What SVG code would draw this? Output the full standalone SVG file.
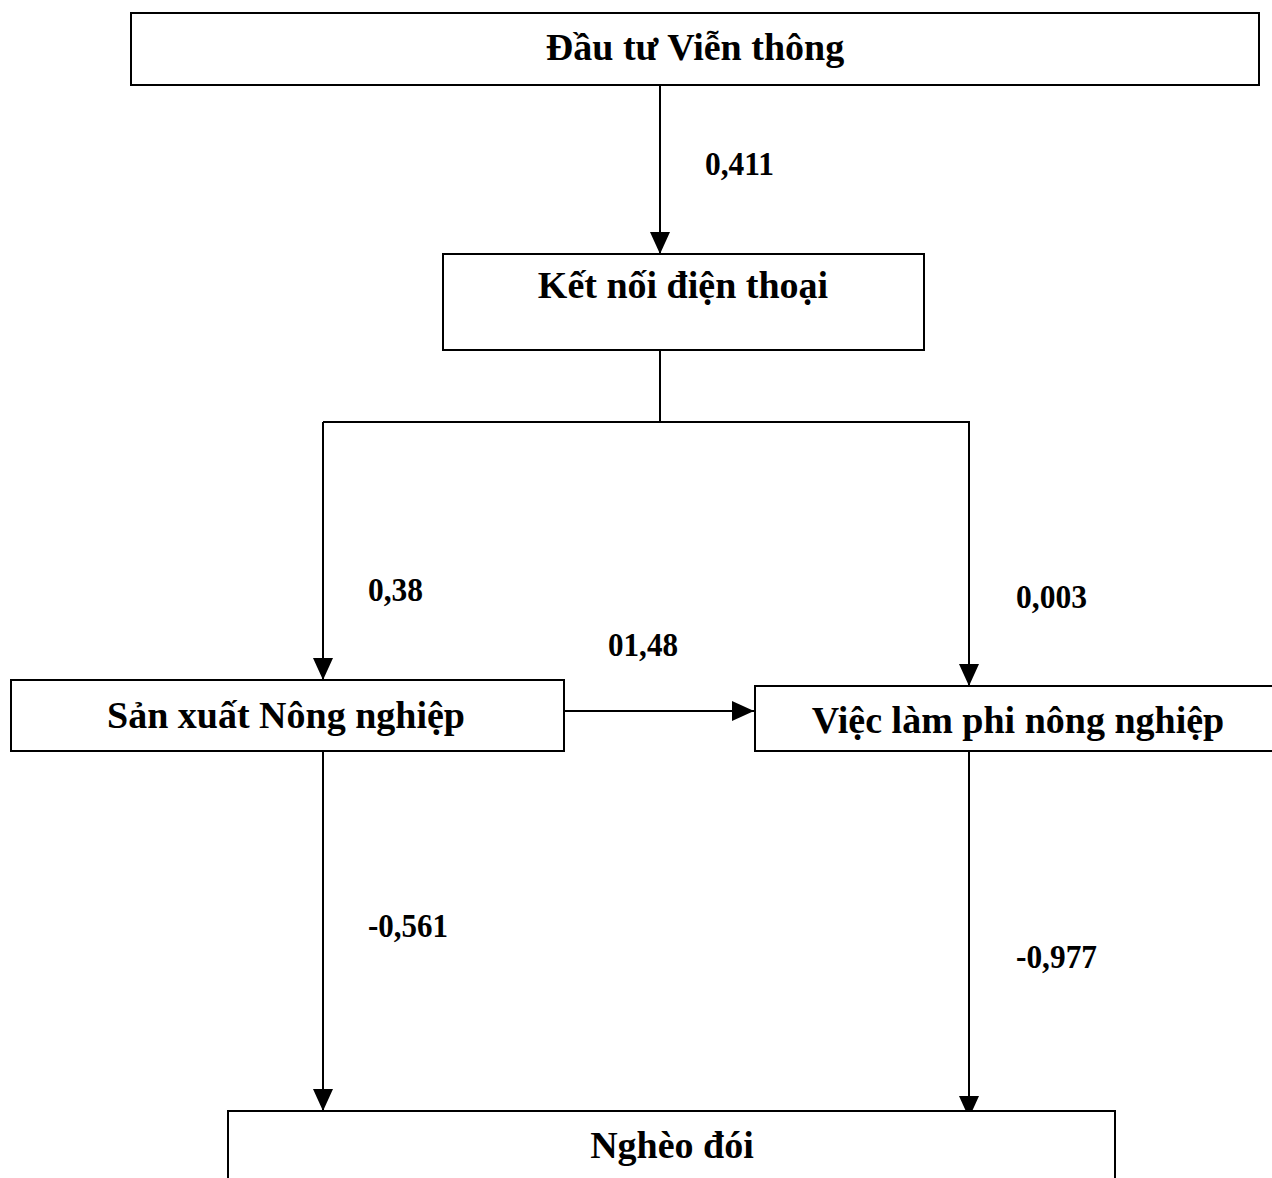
<svg xmlns="http://www.w3.org/2000/svg" width="1272" height="1178" viewBox="0 0 1272 1178">
  <style>
    .box { fill: #fff; stroke: #000; stroke-width: 2; }
    .title { font-family: "Liberation Serif", "Times New Roman", serif; font-weight: bold; font-size: 38px; fill: #000; text-anchor: middle; }
    .coef { font-family: "Liberation Serif", "Times New Roman", serif; font-weight: bold; font-size: 34px; fill: #000; }
    .wire { fill: none; stroke: #000; stroke-width: 2; }
  </style>
  <defs>
    <marker id="head" viewBox="0 0 22 20" refX="22" refY="10" markerWidth="22" markerHeight="20" markerUnits="userSpaceOnUse" orient="auto">
      <path d="M0,0 L22,10 L0,20 Z" fill="#000"/>
    </marker>
  </defs>
  <rect width="1272" height="1178" fill="#fff"/>

  <g id="connectors">
    <line class="wire" x1="660" y1="86" x2="660" y2="254" marker-end="url(#head)"/>
    <polyline class="wire" points="660,350 660,422"/>
    <polyline class="wire" points="323,422 969,422 969,686" marker-end="url(#head)"/>
    <line class="wire" x1="323" y1="422" x2="323" y2="680" marker-end="url(#head)"/>
    <line class="wire" x1="564" y1="711" x2="754" y2="711" marker-end="url(#head)"/>
    <line class="wire" x1="323" y1="752" x2="323" y2="1111" marker-end="url(#head)"/>
    <line class="wire" x1="969" y1="752" x2="969" y2="1118" marker-end="url(#head)"/>
  </g>

  <g id="node-dau-tu">
    <rect class="box" x="131" y="13" width="1128" height="72"/>
    <text class="title" x="695" y="60">Đầu tư Viễn thông</text>
  </g>
  <g id="node-ket-noi">
    <rect class="box" x="443" y="254" width="481" height="96"/>
    <text class="title" x="683" y="298">Kết nối điện thoại</text>
  </g>
  <g id="node-san-xuat">
    <rect class="box" x="11" y="680" width="553" height="71"/>
    <text class="title" x="286" y="728">Sản xuất Nông nghiệp</text>
  </g>
  <g id="node-viec-lam">
    <rect class="box" x="755" y="686" width="527" height="65"/>
    <text class="title" x="1018" y="733">Việc làm phi nông nghiệp</text>
  </g>
  <g id="node-ngheo-doi">
    <rect class="box" x="228" y="1111" width="887" height="90"/>
    <text class="title" x="672" y="1158">Nghèo đói</text>
  </g>

  <g id="coefficients">
    <text class="coef" x="705" y="175" textLength="69" lengthAdjust="spacingAndGlyphs">0,411</text>
    <text class="coef" x="368" y="601" textLength="55" lengthAdjust="spacingAndGlyphs">0,38</text>
    <text class="coef" x="608" y="656" textLength="70" lengthAdjust="spacingAndGlyphs">01,48</text>
    <text class="coef" x="1016" y="608" textLength="71" lengthAdjust="spacingAndGlyphs">0,003</text>
    <text class="coef" x="368" y="937" textLength="80" lengthAdjust="spacingAndGlyphs">-0,561</text>
    <text class="coef" x="1016" y="968" textLength="81" lengthAdjust="spacingAndGlyphs">-0,977</text>
  </g>
</svg>
